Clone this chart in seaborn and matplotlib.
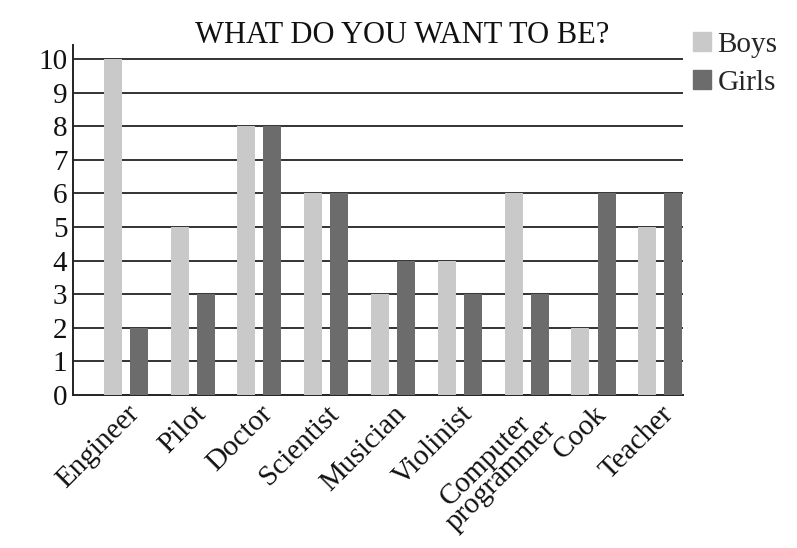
import pandas as pd
import numpy as np
import matplotlib
matplotlib.use('Agg')
import matplotlib.pyplot as plt
import seaborn as sns
from matplotlib.patches import Patch

# --- data ---
jobs = ['Engineer', 'Pilot', 'Doctor', 'Scientist', 'Musician', 'Violinist',
        'Computer\nprogrammer', 'Cook', 'Teacher']
boys = [10, 5, 8, 6, 3, 4, 6, 2, 5]
girls = [2, 3, 8, 6, 4, 3, 3, 6, 6]
y_ticks = list(range(0, 11))

df = pd.DataFrame({
    'Job': jobs * 2,
    'Count': boys + girls,
    'Group': ['Boys'] * len(jobs) + ['Girls'] * len(jobs),
})
colors = {'Boys': '#c9c9c9', 'Girls': '#6c6c6c'}

sns.set_style('white')
plt.rcParams['font.family'] = ['Liberation Serif', 'DejaVu Serif']

fig = plt.figure(figsize=(7.97, 5.48), dpi=100)
ax = fig.add_axes([0.0916, 0.279, 0.857 - 0.0916, 0.917 - 0.279])

sns.barplot(data=df, x='Job', y='Count', hue='Group', order=jobs,
            palette=colors, width=0.78, gap=0.31, linewidth=0,
            ax=ax, legend=False, zorder=3)

ax.set_xlim(-0.79, 8.34)
ax.set_ylim(0, 10.4)
ax.set_yticks(y_ticks)
# horizontal rules behind the bars
for t in y_ticks[1:]:
    ax.axhline(t, color='#333333', lw=1.4, zorder=1)

ax.tick_params(axis='both', length=0, colors='#111111')
ax.tick_params(axis='y', pad=4, labelsize=21)
ax.tick_params(axis='x', pad=4)
plt.setp(ax.get_xticklabels(), rotation=45, ha='right', rotation_mode='anchor',
         fontsize=21, linespacing=0.8, multialignment='center')
ax.set_xlabel('')
ax.set_ylabel('')

for s in ['top', 'right']:
    ax.spines[s].set_visible(False)
for s in ['left', 'bottom']:
    ax.spines[s].set_color('#222222')
    ax.spines[s].set_linewidth(1.4)

fig.text(0.505, 0.936, 'WHAT DO YOU WANT TO BE?', ha='center', va='center',
         fontsize=22, color='#111111')

handles = [Patch(color=colors['Boys'], label='Boys'),
           Patch(color=colors['Girls'], label='Girls')]
fig.legend(handles=handles, loc='upper left', bbox_to_anchor=(0.870, 0.942),
           frameon=False, fontsize=21, handlelength=0.62, handleheight=0.62,
           handletextpad=0.2, labelspacing=0.42, borderaxespad=0, borderpad=0)

fig.savefig('out.png', dpi=100, facecolor='white')
